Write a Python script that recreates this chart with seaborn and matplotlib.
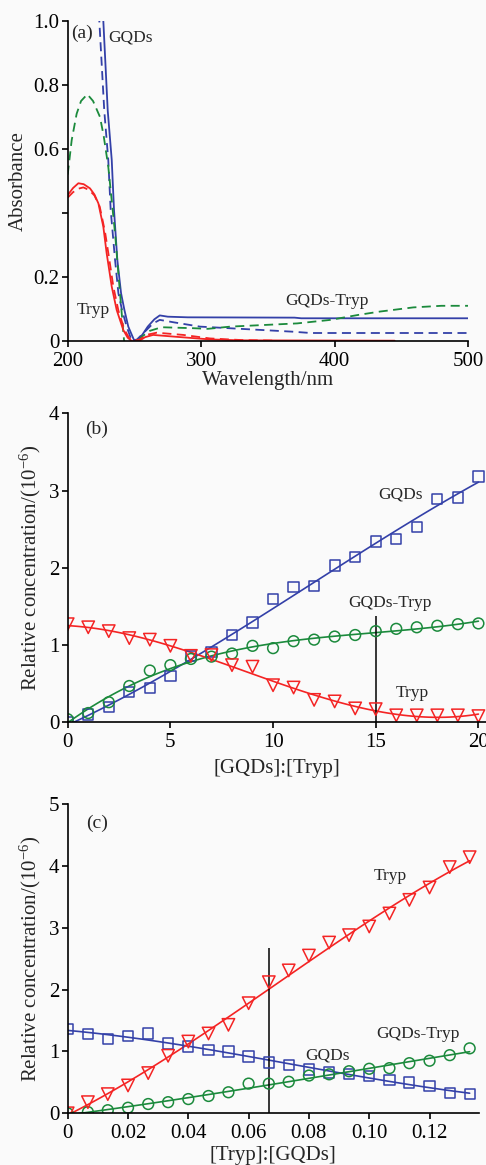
import numpy as np
import pandas as pd
import matplotlib
matplotlib.use("Agg")
import matplotlib.pyplot as plt
import seaborn as sns

# ---------------- data: panel (a) UV-vis spectra ----------------
wl_gqds_solid = [224, 226.7, 230, 233, 234.7, 237.2, 240, 242.5, 245.4, 249.7, 252, 256, 260, 265, 269, 275, 290, 370, 375, 500]
ab_gqds_solid = [1.15, 1.0, 0.72, 0.566, 0.41, 0.253, 0.149, 0.097, 0.045, 0.003, 0.0, 0.02, 0.045, 0.068, 0.08, 0.076, 0.074, 0.073, 0.071, 0.071]

wl_gqds_dash = [221, 223.7, 227.4, 230.4, 232.2, 235.5, 238, 240.7, 244.2, 248, 252, 258, 264, 269, 280, 299, 334, 369, 382, 500]
ab_gqds_dash = [1.15, 1.0, 0.72, 0.566, 0.41, 0.253, 0.149, 0.097, 0.045, 0.0, 0.005, 0.03, 0.055, 0.066, 0.058, 0.045, 0.037, 0.029, 0.025, 0.025]

wl_mix_dash = [200, 203, 206.7, 210, 214.7, 219, 224.2, 227, 230.4, 235.5, 239.2, 242.2, 245, 249, 255.4, 261.7, 270.4, 294, 305, 322, 347, 372, 397, 417, 434, 459, 480, 500]
ab_mix_dash = [0.52, 0.628, 0.71, 0.75, 0.771, 0.75, 0.70, 0.64, 0.545, 0.336, 0.149, 0.003, -0.03, -0.02, 0.013, 0.032, 0.043, 0.04, 0.038, 0.045, 0.05, 0.055, 0.066, 0.081, 0.092, 0.105, 0.11, 0.11]

wl_tryp_solid = [200, 204, 208, 212, 216.7, 220, 223, 226.7, 229.2, 233, 236.7, 241.7, 245, 248, 252, 258, 264, 281.7, 306.6, 330, 445]
ab_tryp_solid = [0.456, 0.478, 0.493, 0.49, 0.477, 0.458, 0.43, 0.357, 0.274, 0.17, 0.097, 0.034, 0.01, 0.0, -0.004, 0.012, 0.019, 0.013, 0.005, 0.002, 0.001]

wl_tryp_dash = [200, 204, 208, 211.7, 216, 220, 224, 228, 231, 234.2, 238, 242.5, 246, 249, 254, 260, 266.7, 286.6, 306.6, 330, 357]
ab_tryp_dash = [0.448, 0.465, 0.476, 0.48, 0.472, 0.455, 0.42, 0.34, 0.26, 0.17, 0.095, 0.035, 0.01, 0.0, 0.005, 0.02, 0.026, 0.019, 0.008, 0.003, 0.001]

# ---------------- data: panel (b) ----------------
ratio_b = list(range(0, 21))
gqds_b = [0.0, 0.10, 0.20, 0.39, 0.44, 0.60, 0.86, 0.91, 1.13, 1.29, 1.60, 1.75, 1.76, 2.03, 2.14, 2.34, 2.37, 2.53, 2.89, 2.91, 3.18]
complex_b = [0.04, 0.12, 0.26, 0.47, 0.67, 0.74, 0.82, 0.85, 0.89, 0.99, 0.96, 1.05, 1.07, 1.11, 1.13, 1.18, 1.21, 1.23, 1.25, 1.27, 1.28]
tryp_b = [1.27, 1.23, 1.18, 1.09, 1.07, 0.99, 0.86, 0.87, 0.74, 0.72, 0.48, 0.45, 0.29, 0.27, 0.18, 0.17, 0.09, 0.09, 0.09, 0.09, 0.08]

# ---------------- data: panel (c) ----------------
ratio_c = [0.0, 0.0067, 0.0133, 0.02, 0.0267, 0.0333, 0.04, 0.0467, 0.0533, 0.06, 0.0667,
           0.0733, 0.08, 0.0867, 0.0933, 0.10, 0.1067, 0.1133, 0.12, 0.1267, 0.1333]
tryp_c = [0.0, 0.18, 0.31, 0.45, 0.65, 0.93, 1.16, 1.29, 1.43, 1.78, 2.12, 2.31, 2.55, 2.76, 2.88, 3.02, 3.23, 3.45, 3.65, 3.98, 4.14]
gqds_c = [1.36, 1.28, 1.20, 1.25, 1.29, 1.13, 1.08, 1.02, 1.00, 0.92, 0.82, 0.78, 0.71, 0.66, 0.63, 0.60, 0.54, 0.50, 0.44, 0.33, 0.31]
complex_c = [0.0, 0.02, 0.05, 0.09, 0.15, 0.18, 0.23, 0.28, 0.34, 0.48, 0.48, 0.51, 0.61, 0.63, 0.68, 0.72, 0.73, 0.81, 0.85, 0.94, 1.05]

# equivalence markers
vline_b_x, vline_b_top = 15, 1.37
vline_c_x, vline_c_top = 0.0667, 2.68

BLUE = "#3340a8"
GREEN = "#1b8a3c"
RED = "#f42424"

sns.set_style("ticks")
plt.rcParams["font.family"] = ["Liberation Serif", "DejaVu Serif"]
plt.rcParams["mathtext.fontset"] = "stix"
plt.rcParams["axes.linewidth"] = 1.2
plt.rcParams["xtick.major.width"] = 1.2
plt.rcParams["ytick.major.width"] = 1.2
plt.rcParams["xtick.major.size"] = 4
plt.rcParams["ytick.major.size"] = 4
plt.rcParams["xtick.major.pad"] = 4
plt.rcParams["ytick.major.pad"] = 2
plt.rcParams["xtick.color"] = "black"
plt.rcParams["ytick.color"] = "black"
plt.rcParams["axes.edgecolor"] = "black"

BG = "#fafafa"
fig = plt.figure(figsize=(4.86, 11.65), dpi=100, facecolor=BG)
W, H = 486.0, 1165.0

def add_axes(left, right, top, bottom):
    return fig.add_axes([left / W, 1 - bottom / H, (right - left) / W, (bottom - top) / H])

TICK_FS = 15
LAB_FS = 15
ANN_FS = 12.5
YLAB = "Relative concentration/(10$^{\\mathregular{-6}}$)"

# ================= panel (a) =================
axa = add_axes(67.7, 468.0, 21.0, 341.0)
axa.set_facecolor(BG)
spectra = [
    (wl_gqds_solid, ab_gqds_solid, BLUE, "-"),
    (wl_gqds_dash, ab_gqds_dash, BLUE, (0, (5, 3))),
    (wl_mix_dash, ab_mix_dash, GREEN, (0, (5, 3))),
    (wl_tryp_solid, ab_tryp_solid, RED, "-"),
    (wl_tryp_dash, ab_tryp_dash, RED, (0, (5, 3))),
]
for wl, ab, c, ls in spectra:
    sns.lineplot(x=wl, y=ab, color=c, linestyle=ls, linewidth=1.3, ax=axa, estimator=None, sort=False)
axa.set_xlim(200, 500)
axa.set_ylim(0, 1.0)
axa.set_xticks([200, 300, 400, 500])
axa.set_yticks([0, 0.2, 0.4, 0.6, 0.8, 1.0])
axa.set_yticklabels(["0", "0.2", "", "0.6", "0.8", "1.0"])
axa.set_xlabel("Wavelength/nm", fontsize=LAB_FS, labelpad=0)
axa.set_ylabel("Absorbance", fontsize=LAB_FS, labelpad=4)
axa.tick_params(labelsize=TICK_FS)
axa.text(211, 0.962, "(a)", fontsize=14, ha="center", va="center")
axa.text(247, 0.95, "GQDs", fontsize=ANN_FS, ha="center", va="center")
axa.text(219, 0.097, "Tryp", fontsize=ANN_FS, ha="center", va="center")
axa.text(394, 0.125, "GQDs-Tryp", fontsize=ANN_FS, ha="center", va="center")
sns.despine(ax=axa)

# ================= helper for titration panels =================
def titration(ax, x, series):
    for y, c, m, s in series:
        sns.regplot(x=np.asarray(x), y=np.asarray(y), order=3, ci=None, scatter=False,
                    truncate=True, color=c, line_kws={"linewidth": 1.2}, ax=ax)
    for y, c, m, s in series:
        sns.scatterplot(x=x, y=y, marker=m, s=s, ax=ax, color=c, linewidth=1.1, zorder=3)
        coll = ax.collections[-1]
        coll.set_facecolor("none")
        coll.set_edgecolor(c)

# ================= panel (b) =================
axb = add_axes(67.7, 486.0, 413.3, 722.3)
axb.set_facecolor(BG)
titration(axb, ratio_b, [
    (gqds_b, BLUE, "s", 55),
    (complex_b, GREEN, "o", 60),
    (tryp_b, RED, "v", 80),
])
axb.vlines(vline_b_x, 0, vline_b_top, color="black", linewidth=1.1)
axb.set_xlim(0, 20.37)
axb.set_ylim(0, 4)
axb.set_xticks([0, 5, 10, 15, 20])
axb.set_yticks([0, 1, 2, 3, 4])
axb.set_xlabel("[GQDs]:[Tryp]", fontsize=LAB_FS, labelpad=5)
axb.set_ylabel(YLAB, fontsize=LAB_FS, labelpad=4)
axb.tick_params(labelsize=TICK_FS)
axb.text(1.4, 3.79, "(b)", fontsize=14, ha="center", va="center")
axb.text(16.2, 2.95, "GQDs", fontsize=ANN_FS, ha="center", va="center")
axb.text(15.7, 1.55, "GQDs-Tryp", fontsize=ANN_FS, ha="center", va="center")
axb.text(16.8, 0.375, "Tryp", fontsize=ANN_FS, ha="center", va="center")
sns.despine(ax=axb)

# ================= panel (c) =================
axc = add_axes(67.7, 479.0, 804.0, 1113.3)
axc.set_facecolor(BG)
titration(axc, ratio_c, [
    (gqds_c, BLUE, "s", 55),
    (complex_c, GREEN, "o", 60),
    (tryp_c, RED, "v", 80),
])
axc.vlines(vline_c_x, 0, vline_c_top, color="black", linewidth=1.1)
axc.set_xlim(0, 0.1364)
axc.set_ylim(0, 5)
axc.set_xticks([0, 0.02, 0.04, 0.06, 0.08, 0.10, 0.12])
axc.set_xticklabels(["0", "0.02", "0.04", "0.06", "0.08", "0.10", "0.12"])
axc.set_yticks([0, 1, 2, 3, 4, 5])
axc.set_xlabel("[Tryp]:[GQDs]", fontsize=LAB_FS, labelpad=2)
axc.set_ylabel(YLAB, fontsize=LAB_FS, labelpad=4)
axc.tick_params(labelsize=TICK_FS)
axc.text(0.0096, 4.69, "(c)", fontsize=14, ha="center", va="center")
axc.text(0.1071, 3.83, "Tryp", fontsize=ANN_FS, ha="center", va="center")
axc.text(0.116, 1.29, "GQDs-Tryp", fontsize=ANN_FS, ha="center", va="center")
axc.text(0.0861, 0.94, "GQDs", fontsize=ANN_FS, ha="center", va="center")
sns.despine(ax=axc)

for ax in (axa, axb, axc):
    for sp in ax.spines.values():
        sp.set_zorder(5)

fig.savefig("out.png", dpi=100, facecolor=BG)
